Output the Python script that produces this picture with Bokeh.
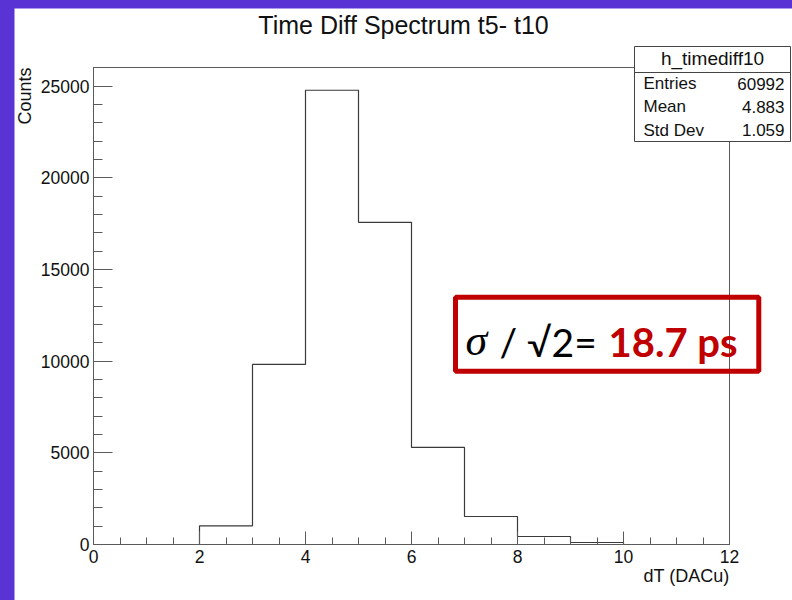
import math
from bokeh.plotting import figure
from bokeh.models import Range1d, SingleIntervalTicker, Label, BoxAnnotation
from bokeh.embed import file_html
from bokeh.resources import INLINE

# ---------------- data ----------------
bin_edges = [0, 1, 2, 3, 4, 5, 6, 7, 8, 9, 10, 11, 12]
counts = [0, 0, 1021, 9825, 24780, 17576, 5295, 1528, 437, 109, 0, 0]
title_text = "Time Diff Spectrum t5- t10"
x_title = "dT (DACu)"
y_title = "Counts"
stat_name = "h_timediff10"
stat_keys = ["Entries", "Mean", "Std Dev"]
stat_vals = ["60992", "4.883", "1.059"]
note_sigma = "\u03c3"
note_black = "/ \u221a2="
note_red = "18.7 ps"

XMIN, XMAX = 0, 12
YMIN, YMAX = 0, 26020

# ---------------- layout (page pixels) ----------------
PAGE_X0, PAGE_Y0 = 14, 8          # white panel offset
W, H = 778, 592
FX0, FX1 = 93.0, 729.0            # page x of XMIN, XMAX
FY0, FY1 = 544.0, 67.0            # page y of YMIN, YMAX
KX = (XMAX - XMIN) / (FX1 - FX0)
KY = (YMAX - YMIN) / (FY0 - FY1)
BASE_SHIFT = 0.35                 # renderer puts alphabetic baseline ~0.35em low


def dx(px):
    return XMIN + (px - FX0) * KX


def dy(py):
    return YMIN + (FY0 - py) * KY


def by(py, size):
    return dy(py - BASE_SHIFT * size)


x_range = Range1d(dx(PAGE_X0), dx(PAGE_X0 + W))
y_range = Range1d(dy(PAGE_Y0 + H), dy(PAGE_Y0))

FONT = "Liberation Sans"
AX = "#5a5a5a"
TXT = "#111111"

p = figure(width=W, height=H, x_range=x_range, y_range=y_range,
           output_backend="svg", toolbar_location=None, min_border=0)
p.margin = (PAGE_Y0, 0, 0, PAGE_X0)
p.title.visible = False
p.background_fill_color = "white"
p.border_fill_color = "white"
p.outline_line_color = None
p.xgrid.visible = False
p.ygrid.visible = False

# plot frame (top / right edges)
p.add_layout(BoxAnnotation(left=XMIN, right=XMAX, bottom=YMIN, top=YMAX, fill_color=None,
                           line_color=AX, line_alpha=1, line_width=1, level="underlay"))

# histogram outline
p.step(bin_edges, counts + [0], mode="after", line_color="#3a3a3a", line_width=1.2)

p.xaxis.ticker = SingleIntervalTicker(interval=2, num_minor_ticks=4)
p.yaxis.ticker = SingleIntervalTicker(interval=5000, num_minor_ticks=5)
p.xaxis.fixed_location = YMIN
p.yaxis.fixed_location = XMIN
p.xaxis.bounds = (XMIN, XMAX)
p.yaxis.bounds = (YMIN, YMAX)
for ax in (p.xaxis[0], p.yaxis[0]):
    ax.major_tick_out = 0
    ax.minor_tick_out = 0
    ax.axis_line_color = AX
    ax.major_tick_line_color = AX
    ax.minor_tick_line_color = AX
    ax.major_label_text_font = FONT
    ax.major_label_text_font_size = "17.5px"
    ax.major_label_text_color = TXT
p.xaxis.major_tick_in = 13
p.xaxis.minor_tick_in = 7
p.xaxis.major_label_standoff = 5
p.yaxis.major_tick_in = 19
p.yaxis.minor_tick_in = 9
p.yaxis.major_label_standoff = 4

# titles
p.add_layout(Label(x=dx(403), y=by(33, 25), text=title_text, text_align="center", text_baseline="alphabetic",
                   text_font=FONT, text_font_size="25px", text_color=TXT))
p.add_layout(Label(x=dx(729), y=by(582, 18), text=x_title, text_align="right", text_baseline="alphabetic",
                   text_font=FONT, text_font_size="18px", text_color=TXT))
p.add_layout(Label(x=dx(31 - BASE_SHIFT * 18), y=dy(67), text=y_title, angle=math.pi / 2, text_align="right",
                   text_baseline="alphabetic", text_font=FONT, text_font_size="18px", text_color=TXT))

# stats box
p.add_layout(BoxAnnotation(left=dx(634), right=dx(790), top=dy(46), bottom=dy(141),
                           fill_color="white", fill_alpha=1, line_color="#444444", line_alpha=1,
                           line_width=1, level="annotation"))
p.add_layout(BoxAnnotation(left=dx(634), right=dx(790), top=dy(72), bottom=dy(72),
                           fill_color=None, line_color="#444444", line_alpha=1, line_width=1,
                           level="annotation"))
p.add_layout(Label(x=dx(712), y=by(64.5, 19), text=stat_name, text_align="center", text_baseline="alphabetic",
                   text_font=FONT, text_font_size="19px", text_color=TXT, level="overlay"))
for i, (k, v) in enumerate(zip(stat_keys, stat_vals)):
    base = 89.3 + 23.1 * i
    p.add_layout(Label(x=dx(643), y=by(base, 17), text=k, text_align="left", text_baseline="alphabetic",
                       text_font=FONT, text_font_size="17px", text_color=TXT, level="overlay"))
    p.add_layout(Label(x=dx(784), y=by(base, 17), text=v, text_align="right", text_baseline="alphabetic",
                       text_font=FONT, text_font_size="17px", text_color=TXT, level="overlay"))

# red note box
p.add_layout(BoxAnnotation(left=dx(455), right=dx(758.3), top=dy(296.7), bottom=dy(370.7),
                           fill_color=None, line_color="#c00000", line_alpha=1, line_width=5,
                           level="overlay"))
p.add_layout(Label(x=dx(465), y=by(355, 44), text=note_sigma, text_align="left", text_baseline="alphabetic",
                   text_font="Liberation Serif", text_font_style="italic", text_font_size="44px",
                   text_color="#000000"))
p.add_layout(Label(x=dx(499), y=by(355, 39), text=note_black, text_align="left", text_baseline="alphabetic",
                   text_font="Lato", text_font_size="39px", text_color="#000000"))
p.add_layout(Label(x=dx(608), y=by(355, 40), text=note_red, text_align="left", text_baseline="alphabetic",
                   text_font="Lato", text_font_style="bold", text_font_size="40px", text_color="#c00000"))

html = file_html(p, INLINE)
style = "<style>html,body{margin:0;padding:0;background:#5a33d4;}</style>"
i = html.rfind("</head>")
html = html[:i] + style + html[i:]
open("out.html", "w").write(html)
